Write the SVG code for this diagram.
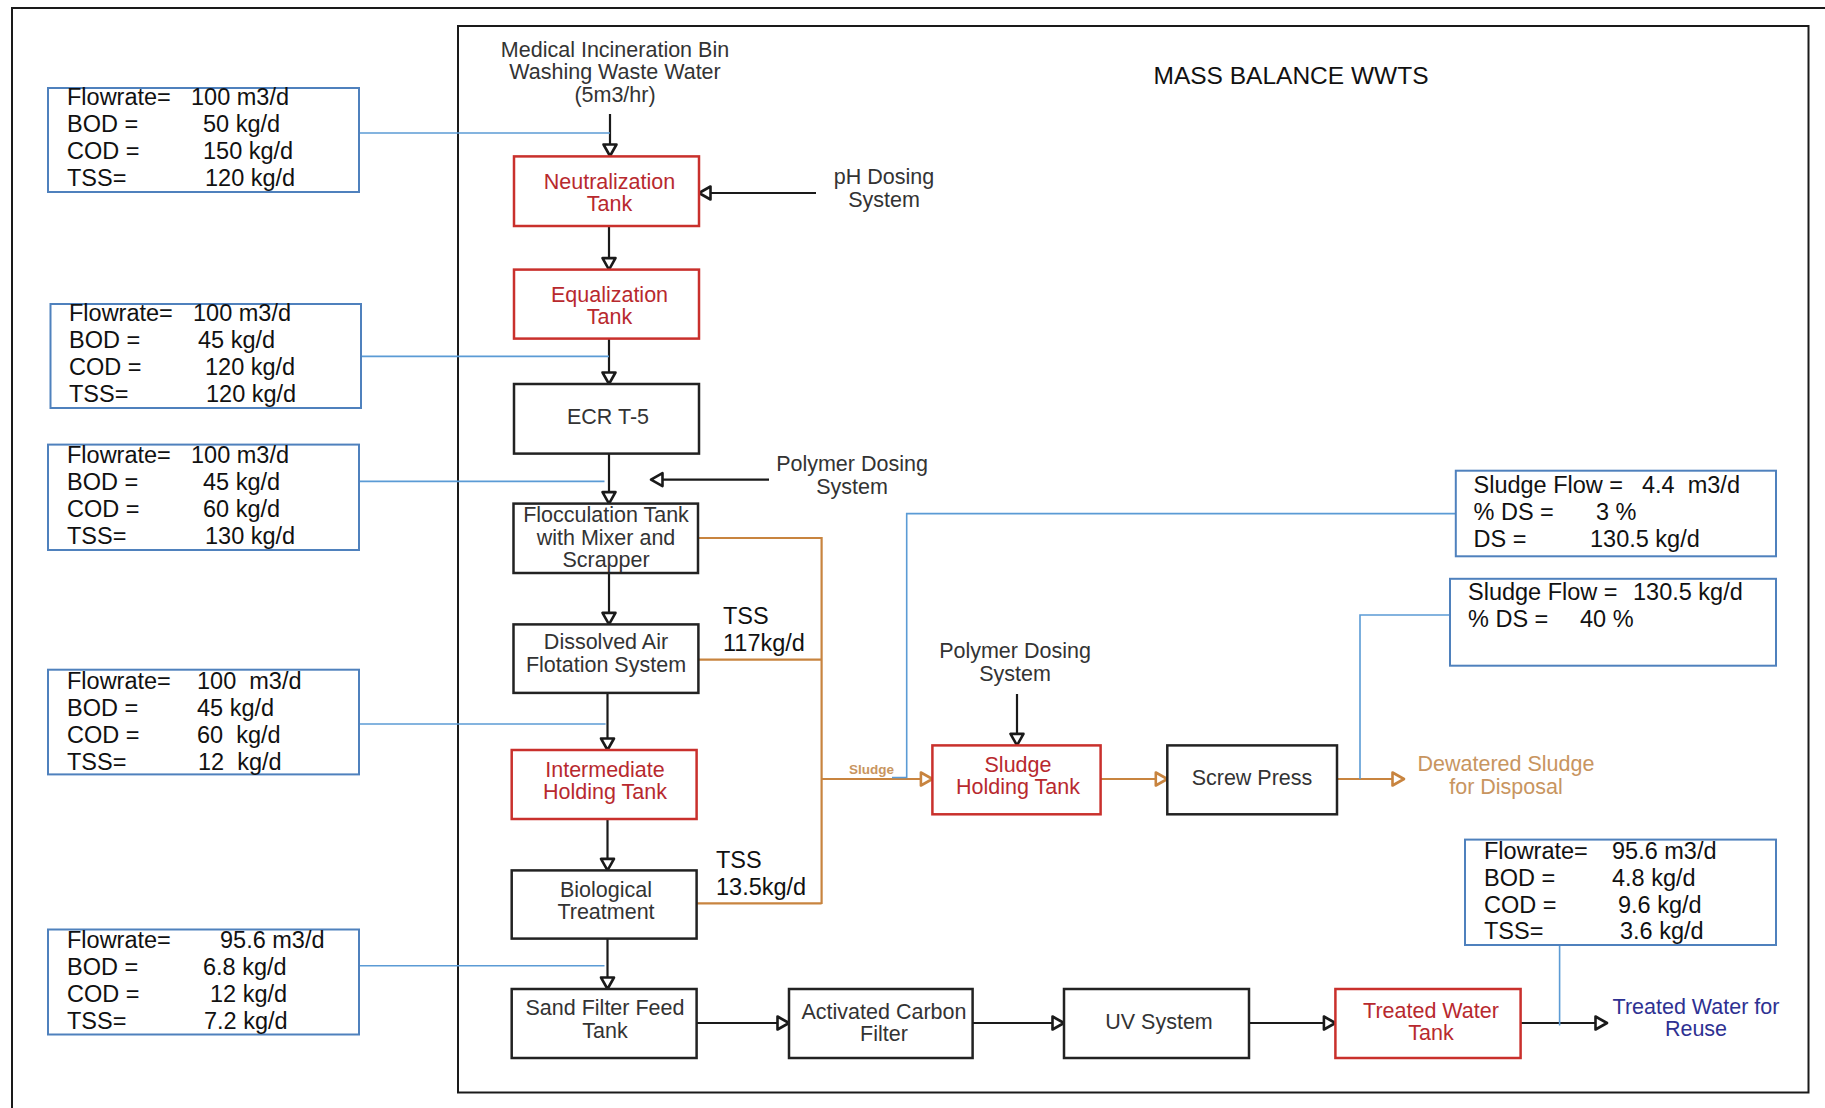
<svg xmlns="http://www.w3.org/2000/svg" width="1825" height="1108" viewBox="0 0 1825 1108">
<defs>
<style>
.frame{fill:none;stroke:#1a1a1a;stroke-width:2}
.nb{fill:#fff;stroke:#222;stroke-width:2.5}
.nr{fill:#fff;stroke:#c9302c;stroke-width:2.5}
.db{fill:#fff;stroke:#4f81bd;stroke-width:2}
.t{font-family:"Liberation Sans",Arial,sans-serif;font-size:21.5px;fill:#333;text-anchor:middle}
.tr{font-family:"Liberation Sans",Arial,sans-serif;font-size:21.5px;fill:#b8292e;text-anchor:middle}
.d{font-family:"Liberation Sans",Arial,sans-serif;font-size:23.5px;fill:#111}
.ck{fill:none;stroke:#1a1a1a;stroke-width:2.2}
.co{fill:none;stroke:#c8843f;stroke-width:2.2}
.cb{fill:none;stroke:#5b9bd5;stroke-width:1.6}
</style>
<marker id="ak" markerUnits="userSpaceOnUse" markerWidth="16" markerHeight="16" viewBox="0 0 16 16" refX="13.5" refY="8" orient="auto" overflow="visible">
<path d="M2,1.5 L13.5,8 L2,14.5 Z" fill="#fff" stroke="#1a1a1a" stroke-width="2.6" stroke-linejoin="round"/>
</marker>
<marker id="ao" markerUnits="userSpaceOnUse" markerWidth="16" markerHeight="16" viewBox="0 0 16 16" refX="13.5" refY="8" orient="auto" overflow="visible">
<path d="M2,1.5 L13.5,8 L2,14.5 Z" fill="#fff" stroke="#c8843f" stroke-width="2.6" stroke-linejoin="round"/>
</marker>
</defs>
<rect width="1825" height="1108" fill="#fff"/>
<rect class="frame" x="12" y="8" width="1830" height="1120"/>
<rect class="frame" x="458" y="26" width="1350.5" height="1066.5" stroke="#333"/>
<text x="1291" y="84" style="font-family:'Liberation Sans',Arial,sans-serif;font-size:24.5px;fill:#111;text-anchor:middle">MASS BALANCE WWTS</text>

<g id="connectors">
<path class="ck" d="M610,114 V156" marker-end="url(#ak)"/>
<path class="ck" d="M816,193 H699" marker-end="url(#ak)"/>
<path class="ck" d="M609,226 V269.6" marker-end="url(#ak)"/>
<path class="ck" d="M609,338.6 V384" marker-end="url(#ak)"/>
<path class="ck" d="M609,453.6 V503.6" marker-end="url(#ak)"/>
<path class="ck" d="M769,479.6 H651" marker-end="url(#ak)"/>
<path class="ck" d="M609,573 V624.4" marker-end="url(#ak)"/>
<path class="ck" d="M607.5,693 V750" marker-end="url(#ak)"/>
<path class="ck" d="M607.5,819 V870.4" marker-end="url(#ak)"/>
<path class="ck" d="M607.5,938.6 V989" marker-end="url(#ak)"/>
<path class="ck" d="M696.6,1023 H789" marker-end="url(#ak)"/>
<path class="ck" d="M972.6,1023 H1064" marker-end="url(#ak)"/>
<path class="ck" d="M1249,1023 H1335.4" marker-end="url(#ak)"/>
<path class="ck" d="M1520.6,1023 H1607" marker-end="url(#ak)"/>
<path class="ck" d="M1017,694 V745.4" marker-end="url(#ak)"/>
<path class="co" d="M698,538 H821.6 V904"/>
<path class="co" d="M698.4,659.6 H821.6"/>
<path class="co" d="M696.6,903.4 H821.6"/>
<path class="co" d="M821.6,779 H932.4" marker-end="url(#ao)"/>
<path class="co" d="M1100.6,779 H1167.3" marker-end="url(#ao)"/>
<path class="co" d="M1337,779 H1404" marker-end="url(#ao)"/>
<path class="cb" d="M359,133 H610"/>
<path class="cb" d="M361,356.4 H609"/>
<path class="cb" d="M359,481.4 H604.5"/>
<path class="cb" d="M359,724 H605.6"/>
<path class="cb" d="M359,965.7 H604.5"/>
<path class="cb" d="M1455.8,513.6 H906.7 V777.5 H892"/>
<path class="cb" d="M1450,615 H1360 V779"/>
<path class="cb" d="M1559.6,945 V1025.5"/>
</g>

<g id="src-medical">
<text class="t" x="615" y="57">Medical Incineration Bin</text>
<text class="t" x="615" y="79">Washing Waste Water</text>
<text class="t" x="615" y="102">(5m3/hr)</text>
</g>
<g id="src-ph">
<text class="t" x="884" y="184">pH Dosing</text>
<text class="t" x="884" y="207">System</text>
</g>
<g id="src-polymer1">
<text class="t" x="852" y="471">Polymer Dosing</text>
<text class="t" x="852" y="494">System</text>
</g>
<g id="src-polymer2">
<text class="t" x="1015" y="658">Polymer Dosing</text>
<text class="t" x="1015" y="681">System</text>
</g>

<g id="n-neutral"><rect class="nr" x="514" y="156.4" width="185" height="69.6"/>
<text class="tr" x="609.5" y="189">Neutralization</text><text class="tr" x="609.5" y="211">Tank</text></g>
<g id="n-equal"><rect class="nr" x="514" y="269.6" width="185" height="69"/>
<text class="tr" x="609.5" y="302">Equalization</text><text class="tr" x="609.5" y="324">Tank</text></g>
<g id="n-ecr"><rect class="nb" x="514" y="384" width="185" height="69.6"/>
<text class="t" x="608" y="424">ECR T-5</text></g>
<g id="n-floc"><rect class="nb" x="513.5" y="503.6" width="184.5" height="69.4"/>
<text class="t" x="606" y="522">Flocculation Tank</text><text class="t" x="606" y="545">with Mixer and</text><text class="t" x="606" y="567">Scrapper</text></g>
<g id="n-daf"><rect class="nb" x="513.5" y="624.4" width="184.9" height="68.5"/>
<text class="t" x="606" y="649">Dissolved Air</text><text class="t" x="606" y="672">Flotation System</text></g>
<g id="n-iht"><rect class="nr" x="511.7" y="750" width="184.9" height="69"/>
<text class="tr" x="605" y="777">Intermediate</text><text class="tr" x="605" y="799">Holding Tank</text></g>
<g id="n-bio"><rect class="nb" x="511.7" y="870.4" width="184.9" height="68.2"/>
<text class="t" x="606" y="897">Biological</text><text class="t" x="606" y="919">Treatment</text></g>
<g id="n-sand"><rect class="nb" x="511.7" y="989" width="184.9" height="69"/>
<text class="t" x="605" y="1015">Sand Filter Feed</text><text class="t" x="605" y="1038">Tank</text></g>
<g id="n-ac"><rect class="nb" x="789" y="989" width="183.6" height="69"/>
<text class="t" x="884" y="1019">Activated Carbon</text><text class="t" x="884" y="1041">Filter</text></g>
<g id="n-uv"><rect class="nb" x="1064" y="989" width="185" height="69"/>
<text class="t" x="1159" y="1029">UV System</text></g>
<g id="n-tw"><rect class="nr" x="1335.4" y="989" width="185.2" height="69"/>
<text class="tr" x="1431" y="1018">Treated Water</text><text class="tr" x="1431" y="1040">Tank</text></g>
<g id="n-reuse">
<text class="t" x="1696" y="1014" style="fill:#2e3192">Treated Water for</text>
<text class="t" x="1696" y="1036" style="fill:#2e3192">Reuse</text></g>
<g id="n-sht"><rect class="nr" x="932.4" y="745.4" width="168.2" height="68.9"/>
<text class="tr" x="1018" y="772">Sludge</text><text class="tr" x="1018" y="794">Holding Tank</text></g>
<g id="n-sp"><rect class="nb" x="1167.3" y="745.4" width="169.7" height="68.9"/>
<text class="t" x="1252" y="785">Screw Press</text></g>
<g id="n-dewatered">
<text class="t" x="1506" y="771" style="fill:#c8955f">Dewatered Sludge</text>
<text class="t" x="1506" y="794" style="fill:#c8955f">for Disposal</text></g>

<g id="lbl-tss1"><text class="d" x="723" y="624">TSS</text><text class="d" x="723" y="651">117kg/d</text></g>
<g id="lbl-tss2"><text class="d" x="716" y="868">TSS</text><text class="d" x="716" y="895">13.5kg/d</text></g>
<g id="lbl-sludge"><text x="849" y="774" style="font-family:'Liberation Sans',Arial,sans-serif;font-size:13.5px;fill:#c8955f;font-weight:bold">Sludge</text></g>

<g id="box1"><rect class="db" x="48" y="88" width="311" height="104"/>
<text class="d" y="105"><tspan x="67">Flowrate=</tspan><tspan x="191">100 m3/d</tspan></text>
<text class="d" y="132"><tspan x="67">BOD =</tspan><tspan x="203">50 kg/d</tspan></text>
<text class="d" y="159"><tspan x="67">COD =</tspan><tspan x="203">150 kg/d</tspan></text>
<text class="d" y="186"><tspan x="67">TSS=</tspan><tspan x="205">120 kg/d</tspan></text></g>
<g id="box2"><rect class="db" x="50.5" y="304" width="310.5" height="104"/>
<text class="d" y="321"><tspan x="69">Flowrate=</tspan><tspan x="193">100 m3/d</tspan></text>
<text class="d" y="348"><tspan x="69">BOD =</tspan><tspan x="198">45 kg/d</tspan></text>
<text class="d" y="375"><tspan x="69">COD =</tspan><tspan x="205">120 kg/d</tspan></text>
<text class="d" y="402"><tspan x="69">TSS=</tspan><tspan x="206">120 kg/d</tspan></text></g>
<g id="box3"><rect class="db" x="48" y="444.6" width="311" height="105.4"/>
<text class="d" y="463"><tspan x="67">Flowrate=</tspan><tspan x="191">100 m3/d</tspan></text>
<text class="d" y="490"><tspan x="67">BOD =</tspan><tspan x="203">45 kg/d</tspan></text>
<text class="d" y="517"><tspan x="67">COD =</tspan><tspan x="203">60 kg/d</tspan></text>
<text class="d" y="544"><tspan x="67">TSS=</tspan><tspan x="205">130 kg/d</tspan></text></g>
<g id="box4"><rect class="db" x="48" y="669.7" width="311" height="104.7"/>
<text class="d" y="689"><tspan x="67">Flowrate=</tspan><tspan x="197">100&#160; m3/d</tspan></text>
<text class="d" y="716"><tspan x="67">BOD =</tspan><tspan x="197">45 kg/d</tspan></text>
<text class="d" y="743"><tspan x="67">COD =</tspan><tspan x="197">60&#160; kg/d</tspan></text>
<text class="d" y="770"><tspan x="67">TSS=</tspan><tspan x="198">12&#160; kg/d</tspan></text></g>
<g id="box5"><rect class="db" x="48" y="929.5" width="311" height="105"/>
<text class="d" y="948"><tspan x="67">Flowrate=</tspan><tspan x="220">95.6 m3/d</tspan></text>
<text class="d" y="975"><tspan x="67">BOD =</tspan><tspan x="203">6.8 kg/d</tspan></text>
<text class="d" y="1002"><tspan x="67">COD =</tspan><tspan x="210">12 kg/d</tspan></text>
<text class="d" y="1029"><tspan x="67">TSS=</tspan><tspan x="204">7.2 kg/d</tspan></text></g>
<g id="box-sludge1"><rect class="db" x="1455.8" y="470.7" width="320.2" height="85.6"/>
<text class="d" y="493"><tspan x="1473.5">Sludge Flow =</tspan><tspan x="1642">4.4&#160; m3/d</tspan></text>
<text class="d" y="520"><tspan x="1473.5">% DS =</tspan><tspan x="1596">3 %</tspan></text>
<text class="d" y="546.5"><tspan x="1473.5">DS =</tspan><tspan x="1590">130.5 kg/d</tspan></text></g>
<g id="box-sludge2"><rect class="db" x="1450" y="578.8" width="326" height="86.9"/>
<text class="d" y="600"><tspan x="1468">Sludge Flow =</tspan><tspan x="1633">130.5 kg/d</tspan></text>
<text class="d" y="627"><tspan x="1468">% DS =</tspan><tspan x="1580">40 %</tspan></text></g>
<g id="box-final"><rect class="db" x="1465" y="839.6" width="311" height="105.4"/>
<text class="d" y="859"><tspan x="1484">Flowrate=</tspan><tspan x="1612">95.6 m3/d</tspan></text>
<text class="d" y="886"><tspan x="1484">BOD =</tspan><tspan x="1612">4.8 kg/d</tspan></text>
<text class="d" y="913"><tspan x="1484">COD =</tspan><tspan x="1618">9.6 kg/d</tspan></text>
<text class="d" y="939"><tspan x="1484">TSS=</tspan><tspan x="1620">3.6 kg/d</tspan></text></g>
</svg>
